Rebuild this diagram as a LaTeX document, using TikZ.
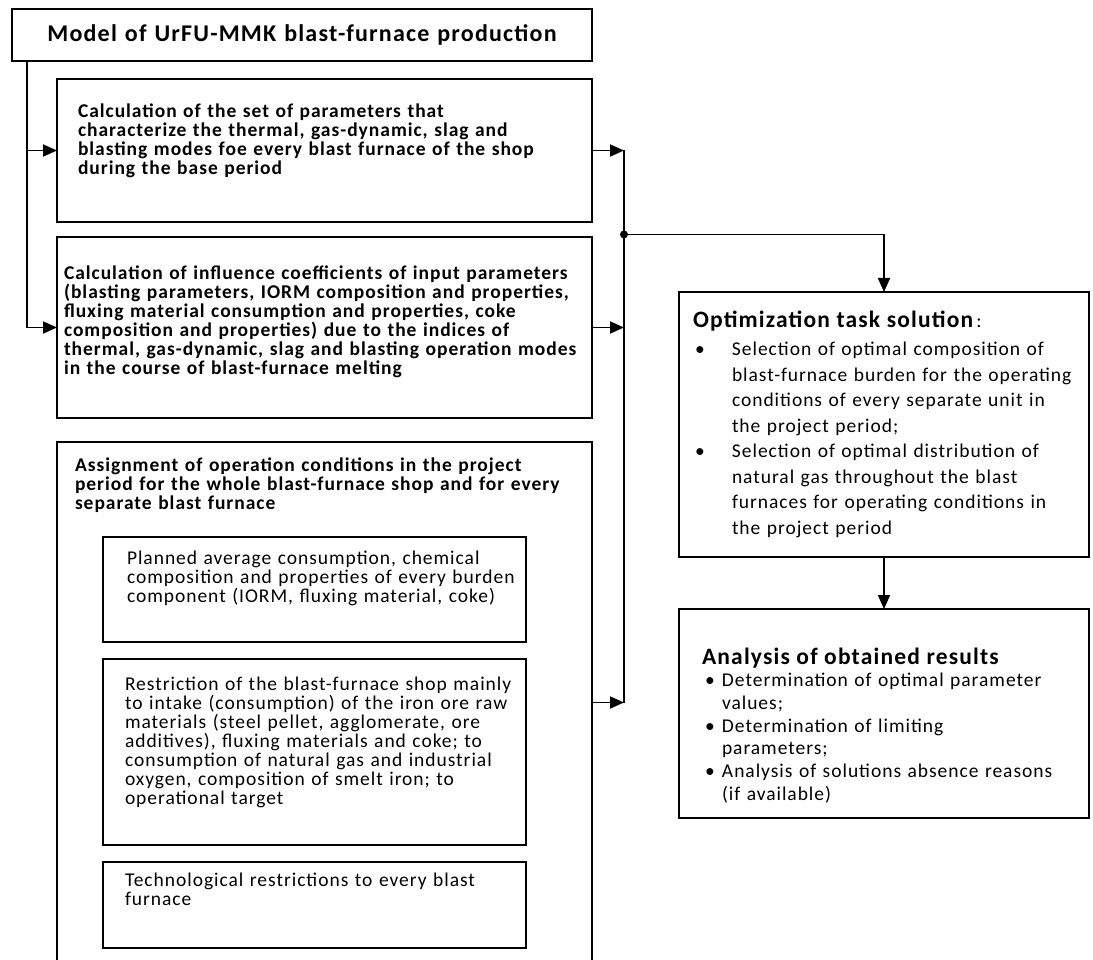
\documentclass[tikz,border=0pt]{standalone}
\usepackage{fontspec}
\setmainfont{Carlito}[LetterSpace=5]
\usetikzlibrary{arrows.meta, positioning}

% extra depth below the last line, pushes the text up in its box
\newcommand{\padb}[1]{\rule[-#1]{0pt}{#1}}
% left indent of the text inside a box
\newcommand{\lpad}[1]{\leftskip=#1\relax}

\begin{document}
\begin{tikzpicture}[
    x=1pt, y=-1pt,
    box/.style={rectangle, draw, line width=2.2pt, outer sep=0pt, align=left, font=\fontsize{19.5}{19}\selectfont},
    head/.style={box, font=\bfseries\fontsize{19.5}{19}\selectfont},
    inner/.style={box, minimum width=423pt, text width=423pt, inner xsep=0pt, inner ysep=0pt},
    wire/.style={line width=1.8pt},
    arrow/.style={wire, -{Triangle[length=14pt, width=12pt]}}
]
    \useasboundingbox (0,0) rectangle (1093,960);
    \clip (0,0) rectangle (1093,960);

    % Title
    \node[head, anchor=north west, inner sep=0pt, line width=2.5pt, minimum width=580pt, minimum height=52pt, text width=580pt, align=center, font=\bfseries\fontsize{24}{26}\selectfont] (model) at (12,9) {Model of UrFU-MMK blast-furnace production};

    % Base period parameters
    \node[head, below right=18pt and 45pt of model.south west, minimum width=535pt, minimum height=143pt, inner xsep=0pt, text width=535pt] (calcset) {\lpad{21pt}Calculation of the set of parameters that\\
    characterize the thermal, gas-dynamic, slag and\\
    blasting modes foe every blast furnace of the shop\\
    during the base period\padb{23pt}\par};

    % Influence coefficients
    \node[head, below=15pt of calcset.south west, anchor=north west, minimum width=535pt, minimum height=181pt, inner xsep=0pt, text width=535pt] (coeff) {\lpad{7pt}Calculation of influence coefficients of input parameters\\
    (blasting parameters, IORM composition and properties,\\
    fluxing material consumption and properties, coke\\
    composition and properties) due to the indices of\\
    thermal, gas-dynamic, slag and blasting operation modes\\
    in the course of blast-furnace melting\padb{14pt}\par};

    % Operation conditions
    \node[head, below=24pt of coeff.south west, anchor=north west, minimum width=535pt, inner xsep=0pt, inner ysep=16pt, text width=535pt] (assign) {\lpad{18pt}Assignment of operation conditions in the project\\
    period for the whole blast-furnace shop and for every\\
    separate blast furnace\padb{500pt}\par};

    % Inner boxes
    \node[inner, below right=95pt and 46pt of assign.north west, minimum height=105pt] (plan) {\lpad{24pt}Planned average consumption, chemical\\
    composition and properties of every burden\\
    component (IORM, fluxing material, coke)\padb{26pt}\par};

    \node[inner, below=17pt of plan.south west, anchor=north west, minimum height=186pt] (restr) {\lpad{22pt}Restriction of the blast-furnace shop mainly\\
    to intake (consumption) of the iron ore raw\\
    materials (steel pellet, agglomerate, ore\\
    additives), fluxing materials and coke; to\\
    consumption of natural gas and industrial\\
    oxygen, composition of smelt iron; to\\
    operational target\padb{22pt}\par};

    \node[inner, below=17pt of restr.south west, anchor=north west, minimum height=86pt] (techn) {\lpad{22pt}Technological restrictions to every blast\\
    furnace\padb{31pt}\par};

    % Optimization
    \node[box, anchor=north west, minimum width=410pt, minimum height=265pt, inner xsep=0pt, text width=410pt, font=\fontsize{19.5}{25.5}\selectfont] (optim) at (679,292) {\lpad{14pt}{\bfseries\fontsize{23.5}{25.5}\selectfont Optimization task solution}\,:\\[2.5pt]
    \hspace*{2pt}\makebox[37pt][l]{\textbullet}Selection of optimal composition of\\
    \hspace*{39pt}blast-furnace burden for the operating\\
    \hspace*{39pt}conditions of every separate unit in\\
    \hspace*{39pt}the project period;\\
    \hspace*{2pt}\makebox[37pt][l]{\textbullet}Selection of optimal distribution of\\
    \hspace*{39pt}natural gas throughout the blast\\
    \hspace*{39pt}furnaces for operating conditions in\\
    \hspace*{39pt}the project period\par};

    % Results
    \node[box, below=52pt of optim, minimum width=410pt, minimum height=209pt, inner xsep=0pt, text width=410pt, font=\fontsize{19.5}{22.7}\selectfont] (results) {\lpad{23pt}\rule{0pt}{40pt}{\bfseries\fontsize{23.5}{22.7}\selectfont Analysis of obtained results}\\
    \hspace*{3pt}\makebox[17pt][l]{\textbullet}Determination of optimal parameter\\
    \hspace*{20pt}values;\\
    \hspace*{3pt}\makebox[17pt][l]{\textbullet}Determination of limiting\\
    \hspace*{20pt}parameters;\\
    \hspace*{3pt}\makebox[17pt][l]{\textbullet}Analysis of solutions absence reasons\\
    \hspace*{20pt}(if available)\par};

    % Left feed
    \coordinate[right=15pt of model.south west] (leftbus);
    \draw[arrow] (leftbus) |- (coeff.west);
    \draw[arrow] (leftbus |- calcset.west) -- (calcset.west);

    % Right collector
    \coordinate[right=32pt of calcset.east] (bustop);
    \coordinate[below=552pt of bustop] (busbot);
    \coordinate[below=84pt of bustop] (junction);
    \draw[arrow] (calcset.east) -- (bustop);
    \draw[arrow] (coeff.east) -- (coeff.east -| bustop);
    \draw[arrow] (assign.east |- busbot) -- (busbot);
    \draw[wire] (bustop) -- (busbot);
    \fill (junction) circle[radius=4pt];
    \draw[arrow] (junction) -| (optim.north);
    \draw[arrow] (optim) -- (results);

\end{tikzpicture}
\end{document}
